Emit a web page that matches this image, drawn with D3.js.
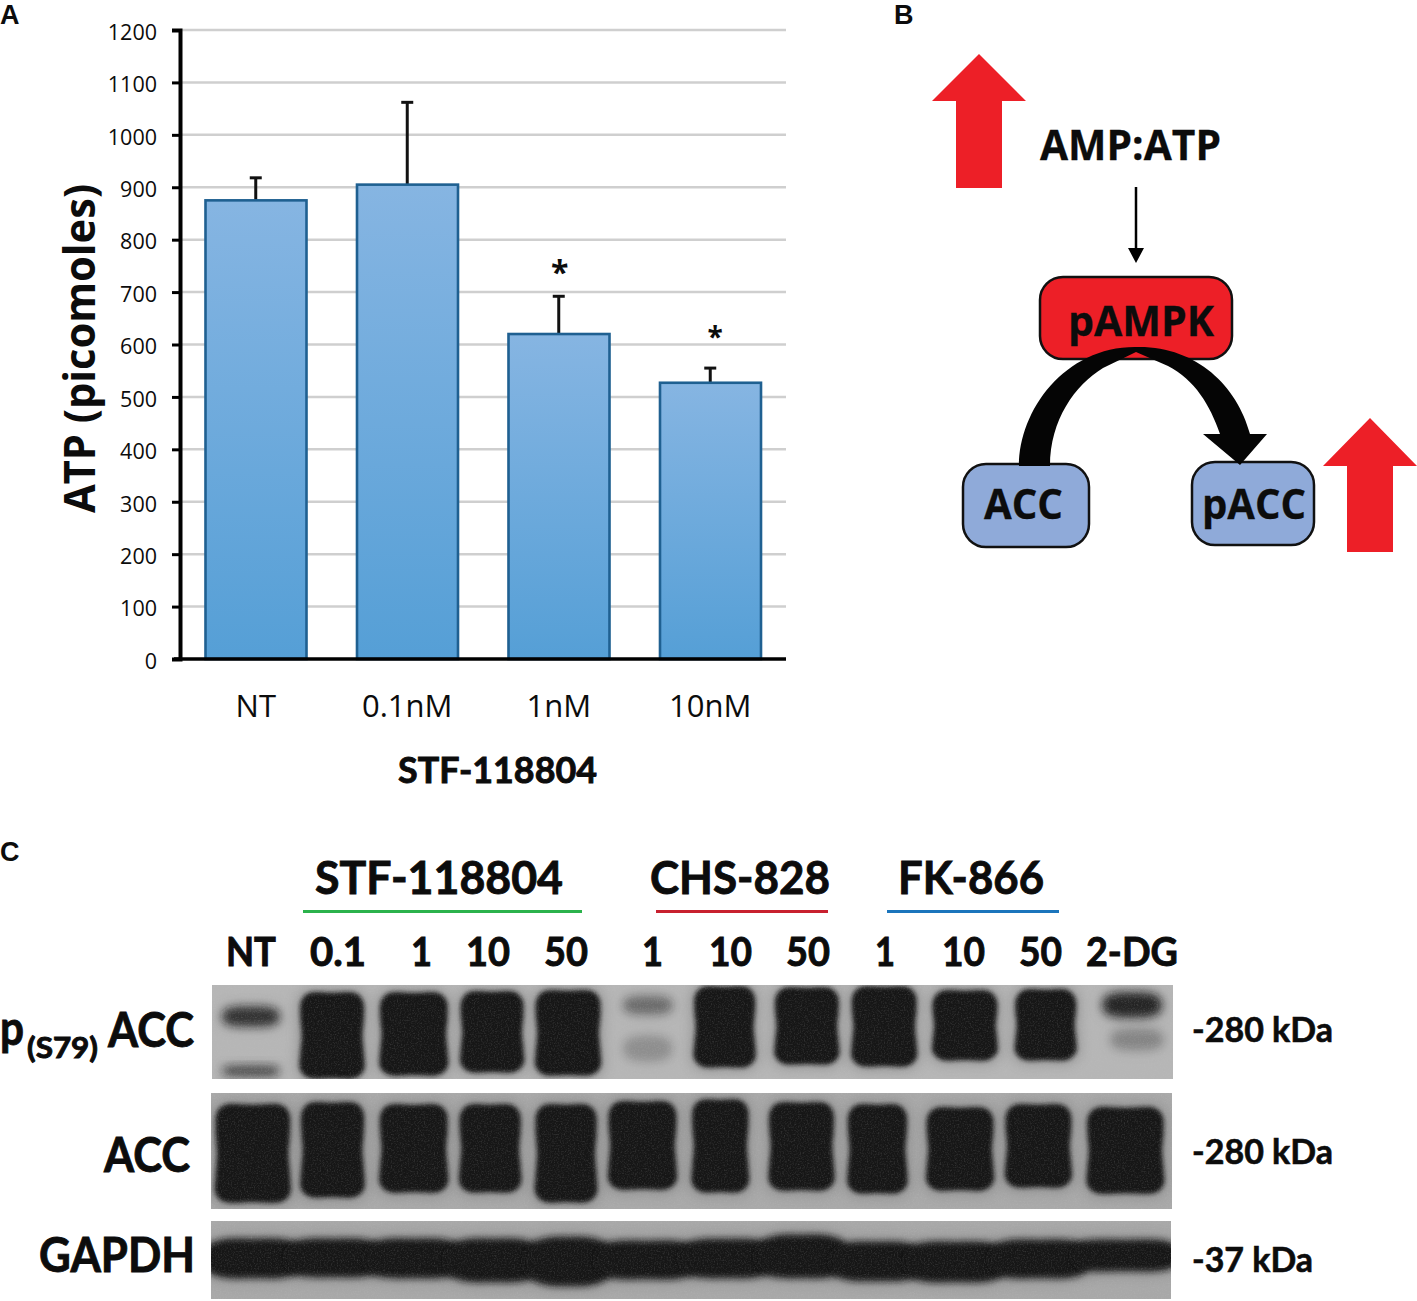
<!DOCTYPE html>
<html><head><meta charset="utf-8">
<script src="https://cdn.jsdelivr.net/npm/d3@7/dist/d3.min.js"></script>
<style>html,body{margin:0;padding:0;background:#fff}svg{display:block}text{fill:#0c0c0c}</style>
</head><body><svg id="c" width="1417" height="1301"></svg>
<script>
// ---------- Panel A data ----------
const treatments = ["NT","0.1nM","1nM","10nM"];
const atpMean = [875,905,620,527];
const atpErrorTop = [918,1062,692,555];
const atpStars = ["","","*","*"];
const atpTicks = d3.range(0,1201,100);
// ---------- Panel C labels ----------
const laneLabels = ["NT","0.1","1","10","50","1","10","50","1","10","50","2-DG"];
const drugs = ["STF-118804","CHS-828","FK-866"];
const sizes = ["-280 kDa","-280 kDa","-37 kDa"];
// ---------- Blot densitometry readings, percent of each membrane ----------
const pAccLeft   = [1.1,9.2,17.5,25.9,33.7,42.8,50.2,58.6,66.6,75,83.6,92.7,1.1,42.8,93.5];
const pAccRight  = [7,15.8,24.5,32.4,40.4,47.9,56.5,65.2,73.3,81.7,89.9,98.8,7,47.9,99];
const pAccTop    = [24.5,8.5,8.5,7.4,6.4,13,2.1,3.2,2.1,6.4,5.3,9.5,87,55,48];
const pAccBottom = [42.6,99,95.7,92.6,95.7,30,87.2,84,86.2,79.8,79.8,33,96,80,68];
const pAccSignal = [.78,1,1,1,1,.4,1,1,1,1,1,.88,.6,.2,.25];
const accLeft   = [.5,9.4,17.6,25.9,33.8,41.4,50.1,58.1,66.3,74.5,82.7,91.2];
const accRight  = [8.2,15.9,24.6,32.2,40.1,48.4,55.9,64.8,72.4,81.4,89.5,99.1];
const accTop    = [10.3,8.6,10.3,10.3,10.3,7.8,6,8.6,10.3,12.9,10.3,12.9];
const accBottom = [94,89.7,85.3,85.3,94,82.8,85.3,83.6,86.2,83.6,81,86.2];
const gapdhLeft   = [.2,8.7,17,25.3,33.6,41,49.8,57.7,65.5,73.2,82,90.6];
const gapdhRight  = [8.7,17,25.3,33.6,41,49.8,57.7,65.5,73.2,82,90.6,99.8];
const gapdhTop    = [24.4,24.4,24.4,24.4,21.8,26.9,24.4,19.2,28.2,28.2,25.6,25.6];
const gapdhBottom = [71.8,70.5,71.8,76.9,82,73,71.8,71.8,75.6,76.9,71.8,62.8];

const svg = d3.select("#c");
const defs = svg.append("defs");
const SANS = "'Open Sans',sans-serif", LATO = "Lato,sans-serif";
function label(g,str,x0,x1,base,size,font,heavy){
  return g.append("text").attr("x",x0).attr("y",base).attr("font-family",font||LATO)
    .attr("font-weight",700).attr("font-size",size)
    .attr("stroke","#0c0c0c").attr("stroke-width",heavy==null?.9:heavy)
    .attr("textLength",x1-x0).attr("lengthAdjust","spacingAndGlyphs").text(str);
}
// panel letters
[["A",0,24],["B",894,24],["C",0,861]].forEach(([t,x,y])=>{
  svg.append("text").attr("x",x).attr("y",y).attr("font-family","'Liberation Sans'")
    .attr("font-weight",700).attr("font-size",27).text(t);
});

// ================= Panel A =================
const y = d3.scaleLinear().domain([0,1200]).range([659,30]);
const x = d3.scaleBand().domain(treatments).range([180,786]).paddingInner(.33).paddingOuter(.165);
const A = svg.append("g");
const grad = defs.append("linearGradient").attr("id","bar").attr("x1",0).attr("x2",0).attr("y1",0).attr("y2",1);
grad.append("stop").attr("offset",0).attr("stop-color","#86b5e2");
grad.append("stop").attr("offset",1).attr("stop-color","#559fd6");
A.selectAll(".grid").data(atpTicks.filter(d=>d>0)).join("line").attr("class","grid")
  .attr("x1",180).attr("x2",786).attr("y1",d=>y(d)).attr("y2",d=>y(d))
  .attr("stroke","#cfcfcf").attr("stroke-width",2.5);
const yAxis = A.append("g").attr("transform","translate(180,0)")
  .call(d3.axisLeft(y).tickValues(atpTicks).tickSize(8).tickPadding(14).tickFormat(d3.format("d")));
yAxis.select(".domain").attr("stroke","#000").attr("stroke-width",4);
yAxis.selectAll(".tick line").attr("stroke","#000").attr("stroke-width",3);
yAxis.selectAll("text").attr("font-family",SANS).attr("font-size",21.5).attr("fill","#222")
  .attr("dy","0.43em").attr("x",-23);
A.selectAll(".err").data(treatments).join("line").attr("class","err")
  .attr("x1",d=>x(d)+x.bandwidth()/2).attr("x2",d=>x(d)+x.bandwidth()/2)
  .attr("y1",(d,i)=>y(atpMean[i])).attr("y2",(d,i)=>y(atpErrorTop[i]))
  .attr("stroke","#111").attr("stroke-width",3);
A.selectAll(".cap").data(treatments).join("line").attr("class","cap")
  .attr("x1",d=>x(d)+x.bandwidth()/2-6).attr("x2",d=>x(d)+x.bandwidth()/2+6)
  .attr("y1",(d,i)=>y(atpErrorTop[i])).attr("y2",(d,i)=>y(atpErrorTop[i]))
  .attr("stroke","#111").attr("stroke-width",3);
A.selectAll(".bar").data(treatments).join("rect").attr("class","bar")
  .attr("x",d=>x(d)+.5).attr("width",x.bandwidth()-.5)
  .attr("y",(d,i)=>y(atpMean[i])).attr("height",(d,i)=>y(0)-y(atpMean[i]))
  .attr("fill","url(#bar)").attr("stroke","#1f6091").attr("stroke-width",2.6);
const xAxis = A.append("g").attr("transform","translate(0,659)")
  .call(d3.axisBottom(x).tickSize(0).tickPadding(33));
xAxis.select(".domain").attr("d","M174,0H786").attr("stroke","#000").attr("stroke-width",3.5);
xAxis.selectAll("text").attr("font-family",SANS).attr("font-size",31).attr("fill","#222").attr("dy","0.82em");
A.selectAll(".star").data(treatments).join("text").attr("class","star")
  .attr("x",(d,i)=>x(d)+x.bandwidth()/2+(i==3?5:1)).attr("text-anchor","middle")
  .attr("y",(d,i)=>y(atpErrorTop[i])-(i==2?12:21)).attr("font-family",SANS).attr("font-weight",700)
  .attr("font-size",(d,i)=>i==2?32:28).text((d,i)=>atpStars[i]);
label(A,"STF-118804",398,597,783,36);
A.append("text").attr("transform","translate(95,513) rotate(-90)")
  .attr("font-family",SANS).attr("font-weight",700).attr("font-size",43)
  .attr("textLength",329).attr("lengthAdjust","spacingAndGlyphs").text("ATP (picomoles)");

// ================= Panel B =================
const B = svg.append("g");
const red="#ed1f27", blue="#8faad9";
const poly = d3.line();
[[979,54,101,188],[1370,418,466,552]].forEach(([cx,tip,base,end])=>{
  B.append("path").attr("fill",red).attr("d",poly([[cx,tip],[cx+47,base],[cx+23,base],[cx+23,end],[cx-23,end],[cx-23,base],[cx-47,base]])+"Z");
});
label(B,"AMP:ATP",1040,1221,160,41,SANS,.3);
B.append("line").attr("x1",1136).attr("x2",1136).attr("y1",187).attr("y2",250).attr("stroke","#000").attr("stroke-width",2.5);
B.append("path").attr("d",poly([[1128,248],[1144,248],[1136,263]])+"Z").attr("fill","#000");
const box=(x0,y0,w,h,f)=>B.append("rect").attr("x",x0).attr("y",y0).attr("width",w).attr("height",h).attr("rx",23)
  .attr("fill",f).attr("stroke","#111").attr("stroke-width",2.5);
box(1040,277,192,82,red);
box(963,464,126,83,blue);
box(1192,462,122,83,blue);
B.append("path").attr("fill","#050505").attr("d",
 "M1019,466C1019,410 1065,347 1135,347C1195,345 1237,385 1250,434L1267,434L1240,465L1203,434L1220,434"+
 "C1210,405 1195,380 1168,366L1136,352L1103,368C1075,385 1050,420 1050,466Z");
label(B,"pAMPK",1068,1214,336,41,SANS,.3);
label(B,"ACC",984,1063,519,41,SANS,.3);
label(B,"pACC",1202,1306,519,41,SANS,.3);

// ================= Panel C =================
const C = svg.append("g");
[[0,315,563,894],[1,650,830,894],[2,898,1044,894]].forEach(([i,a,b,base])=>label(C,drugs[i],a,b,base,46));
[[303,582,"#2bb24c"],[656,828,"#c8202f"],[887,1059,"#1b75bc"]].forEach(([a,b,col])=>
  C.append("line").attr("x1",a).attr("x2",b).attr("y1",911.5).attr("y2",911.5).attr("stroke",col).attr("stroke-width",3));
const laneX=[[226,276],[310,366],[411,432],[466,510],[544,588],[642,663],[709,752],[786,830],[875,895],[942,985],[1019,1062],[1086,1178]];
laneLabels.forEach((t,i)=>label(C,t,laneX[i][0],laneX[i][1],966,40));
label(C,"p",0,24,1045,48);
label(C,"(S79)",27,98,1058,28);
label(C,"ACC",108,194,1047,48);
label(C,"ACC",104,190,1172,48);
label(C,"GAPDH",39,195,1272,48);
[[1042,1333],[1164,1333],[1272,1313]].forEach(([base,end],i)=>label(C,sizes[i],1192,end,base,35,null,.6));

[["bl",2.2],["bw",4],["bg",3.2],["ha",7]].forEach(([id,s])=>{
  defs.append("filter").attr("id",id).attr("x","-50%").attr("y","-50%").attr("width","200%").attr("height","200%")
    .append("feGaussianBlur").attr("stdDeviation",s);
});
const noise = defs.append("filter").attr("id","no").attr("x",0).attr("y",0).attr("width","100%").attr("height","100%");
noise.append("feTurbulence").attr("type","fractalNoise").attr("baseFrequency",.7).attr("numOctaves",2).attr("seed",4);
noise.append("feColorMatrix").attr("type","matrix").attr("values","0 0 0 0 .55  0 0 0 0 .55  0 0 0 0 .55  1.2 0 0 0 -.55");

const bandCurve = d3.line().curve(d3.curveCatmullRomClosed.alpha(.5));
function bandPath(x0,x1,y0,y1,lobed){
  const h=y1-y0,xm=(x0+x1)/2,ym=(y0+y1)/2;
  if(lobed||h<40){
    const r=Math.min(h/2,(x1-x0)/3),k=r*.3;
    return bandCurve([[x0+r,y0],[xm,y0-1],[x1-r,y0],[x1-k,y0+k],[x1,ym],[x1-k,y1-k],[x1-r,y1],[xm,y1+1],[x0+r,y1],[x0+k,y1-k],[x0,ym],[x0+k,y0+k]]);
  }
  const r=8,w=1.5;
  return bandCurve([[x0+r,y0+.5],[xm,y0],[x1-r,y0+.5],[x1-1,y0+r],[x1,y0+h*.28],[x1-w,ym],[x1,y0+h*.72],[x1,y1-r],[x1-r,y1-.5],[xm,y1],[x0+r,y1-.5],[x0,y1-r],[x0,y0+h*.72],[x0+w,ym],[x0,y0+h*.28],[x0+1,y0+r]]);
}
function blot(id,X0,X1,Y0,Y1,L,R,T,B_,S,bg,grow,lobed){
  const sx=d3.scaleLinear().domain([0,100]).range([X0,X1]);
  const sy=d3.scaleLinear().domain([0,100]).range([Y0,Y1]);
  defs.append("clipPath").attr("id",id).append("rect").attr("x",X0).attr("y",Y0).attr("width",X1-X0).attr("height",Y1-Y0);
  const g=C.append("g").attr("clip-path",`url(#${id})`);
  g.append("rect").attr("x",X0).attr("y",Y0).attr("width",X1-X0).attr("height",Y1-Y0).attr("fill",bg);
  const draw=(sel,pad,fill,op,filt)=>sel.selectAll("path").data(L).join("path")
    .attr("d",(d,i)=>bandPath(sx(L[i])-pad-grow,sx(R[i])+pad+grow,sy(T[i])-pad,sy(B_[i])+pad,lobed))
    .attr("fill",fill).attr("opacity",(d,i)=>op*(S?S[i]:1))
    .attr("filter",(d,i)=>filt||(S&&S[i]<.9?"url(#bw)":lobed?"url(#bg)":"url(#bl)"));
  draw(g.append("g"),2,"#555",.45,"url(#ha)");
  draw(g.append("g"),0,"#131313",1);
  g.append("rect").attr("x",X0).attr("y",Y0).attr("width",X1-X0).attr("height",Y1-Y0)
    .attr("filter","url(#no)").attr("opacity",.35);
}
blot("b1",212,1173,985,1079,pAccLeft,pAccRight,pAccTop,pAccBottom,pAccSignal,"#b6b6b6",0,false);
blot("b2",211,1172,1093,1209,accLeft,accRight,accTop,accBottom,null,"#a9a9a9",0,false);
blot("b3",211,1171,1221,1299,gapdhLeft,gapdhRight,gapdhTop,gapdhBottom,null,"#a8a8a8",10,true);
</script></body></html>
